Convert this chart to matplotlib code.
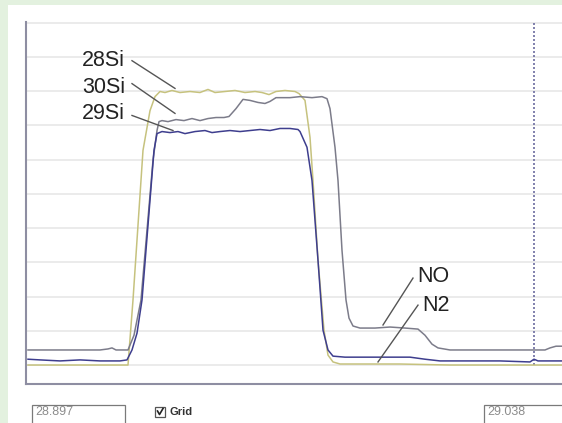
import matplotlib
matplotlib.use("Agg")
import matplotlib.pyplot as plt
from matplotlib.patches import Rectangle

# Segnali (unita' arbitrarie, griglia 0-10) contro indice di scansione
SI28_X = [2, 102, 107, 117, 124, 129, 134, 139, 146, 154, 164, 174, 182, 189, 199, 209,
          219, 229, 236, 243, 250, 259, 269, 273, 279, 284, 287, 292, 298, 302, 307, 314,
          374, 424, 536]
SI28_Y = [0.0, 0.0, 1.90, 6.27, 7.43, 7.84, 7.99, 7.96, 8.02, 7.96, 7.99, 7.96, 8.05, 7.96,
          7.99, 8.02, 7.96, 7.99, 7.96, 7.90, 7.99, 8.02, 7.99, 7.93, 7.73, 6.65, 5.39, 3.06,
          1.02, 0.29, 0.09, 0.03, 0.03, 0.0, 0.0]

# 29Si / N2 (stessa traccia blu)
BLUE_X = [2, 14, 34, 54, 74, 94, 101, 106, 111, 116, 128, 131, 136, 144, 152, 159, 169,
          179, 186, 194, 204, 214, 224, 234, 244, 254, 264, 272, 274, 281, 286, 292, 297,
          302, 307, 319, 354, 384, 399, 414, 444, 474, 504, 508, 512, 536]
BLUE_Y = [0.17, 0.15, 0.12, 0.15, 0.12, 0.12, 0.15, 0.44, 0.93, 1.90, 6.27, 6.76, 6.82,
          6.79, 6.82, 6.76, 6.82, 6.85, 6.79, 6.82, 6.85, 6.82, 6.85, 6.88, 6.85, 6.91,
          6.91, 6.88, 6.82, 6.36, 5.39, 3.06, 1.02, 0.44, 0.26, 0.23, 0.23, 0.23, 0.17,
          0.12, 0.12, 0.12, 0.09, 0.17, 0.12, 0.12]

# 30Si / NO (stessa traccia grigia)
GRAY_X = [2, 74, 82, 86, 90, 102, 108, 115, 127, 131, 133, 136, 142, 150, 158, 166, 174,
          182, 190, 198, 203, 210, 217, 224, 232, 239, 244, 250, 264, 274, 286, 296, 301,
          304, 309, 312, 316, 320, 323, 327, 334, 349, 364, 379, 392, 399, 406, 412, 424,
          454, 484, 510, 519, 524, 530, 536]
GRAY_Y = [0.44, 0.44, 0.47, 0.50, 0.44, 0.44, 0.87, 1.90, 5.98, 6.85, 7.11, 7.14, 7.11,
          7.17, 7.14, 7.20, 7.14, 7.20, 7.23, 7.23, 7.26, 7.49, 7.76, 7.73, 7.67, 7.64,
          7.70, 7.81, 7.81, 7.84, 7.81, 7.84, 7.78, 7.49, 6.36, 5.39, 3.35, 1.90, 1.37,
          1.14, 1.08, 1.08, 1.11, 1.08, 1.05, 0.87, 0.61, 0.50, 0.44, 0.44, 0.44, 0.44,
          0.44, 0.50, 0.55, 0.55]

CURSOR_X = 508
GRID_LEVELS = list(range(0, 11))

# etichette: (testo, x testo, y testo, allineamento, segmento guida x0, y0, x1, y1)
LABELS = [
    ("28Si", 99, 8.89, "right", 106, 8.89, 149, 8.08),
    ("30Si", 99, 8.10, "right", 106, 8.22, 149, 7.35),
    ("29Si", 99, 7.35, "right", 106, 7.29, 147, 6.85),
    ("NO", 391, 2.59, "left", 387, 2.54, 357, 1.17),
    ("N2", 396, 1.75, "left", 392, 1.75, 352, 0.09),
]

LEFT_VALUE = "28.897"
RIGHT_VALUE = "29.038"

W, H = 562, 423
fig = plt.figure(figsize=(W / 100, H / 100), dpi=100)
fig.patch.set_facecolor("#e3f1df")
fig.patches.append(Rectangle((8 / W, 0), 1, (H - 5) / H, transform=fig.transFigure,
                             facecolor="white", edgecolor="none", zorder=-10))

ax = fig.add_axes([26 / W, (H - 384) / H, (W - 26) / W, 362 / H])
ax.set_facecolor("white")
ax.set_xlim(0, 536)
ax.set_ylim(-0.554, 10.02)
for s in ("top", "right"):
    ax.spines[s].set_visible(False)
for s in ("left", "bottom"):
    ax.spines[s].set_color("#8e8ea2")
    ax.spines[s].set_linewidth(1.5)
ax.set_xticks([])
ax.set_yticks([])
for lv in GRID_LEVELS:
    ax.axhline(lv, color="#e8e8e8", lw=1.2, zorder=1)

ax.plot([CURSOR_X, CURSOR_X], [0, 10], color="#6c6ca0", lw=1.2, ls=(0, (1.2, 1.2)), zorder=2)

ax.plot(SI28_X, SI28_Y, color="#c6c27e", lw=1.1, zorder=3)
ax.plot(GRAY_X, GRAY_Y, color="#7c7c8a", lw=1.1, zorder=3)
ax.plot(BLUE_X, BLUE_Y, color="#3e3e8e", lw=1.1, zorder=4)

for txt, tx, ty, ha, x0, y0, x1, y1 in LABELS:
    ax.text(tx, ty, txt, ha=ha, va="center", fontsize=15.5, family="Liberation Sans",
            color="#222222", zorder=5)
    ax.plot([x0, x1], [y0, y1], color="#555555", lw=1.0, zorder=5)

# controlli sotto il grafico
def field(x0, x1, text):
    fig.patches.append(Rectangle((x0 / W, -0.05), (x1 - x0) / W, (H - 405) / H + 0.05,
                                 transform=fig.transFigure, facecolor="white",
                                 edgecolor="#7a7a7a", lw=0.9))
    fig.text((x0 + 3) / W, (H - 412) / H, text, ha="left", va="center", fontsize=9,
             family="Liberation Sans", color="#8c8c8c")

field(32, 125, LEFT_VALUE)
field(484, 575, RIGHT_VALUE)

fig.patches.append(Rectangle((155 / W, (H - 417) / H), 10 / W, 10 / H, transform=fig.transFigure,
                             facecolor="white", edgecolor="#555555", lw=0.9))
fig.lines.append(plt.Line2D([157.5 / W, 159.5 / W, 163 / W],
                            [(H - 411) / H, (H - 414.5) / H, (H - 408.5) / H],
                            transform=fig.transFigure, color="#222222", lw=1.2))
fig.text(170 / W, (H - 412) / H, "Grid", ha="left", va="center", fontsize=8,
         fontweight="bold", family="Liberation Sans", color="#333333")

fig.savefig("out.png", dpi=100, facecolor=fig.get_facecolor())
